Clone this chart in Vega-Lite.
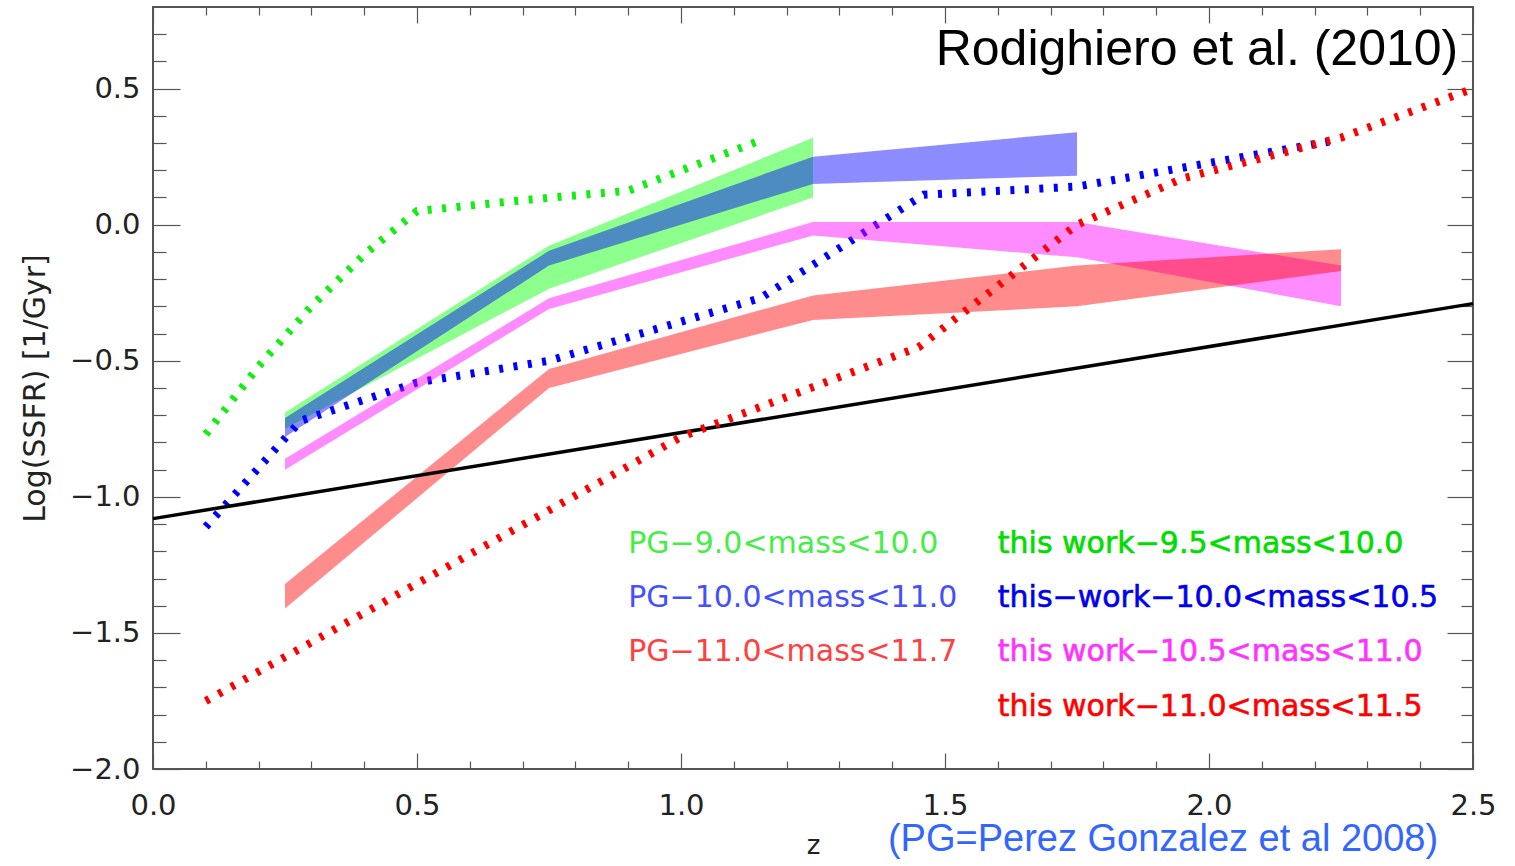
{
  "$schema": "https://vega.github.io/schema/vega-lite/v6.json",
  "width": 1320,
  "height": 762,
  "autosize": {"type": "none"},
  "padding": {"left": 153, "top": 7, "right": 42, "bottom": 97},
  "background": "white",
  "config": {
    "view": {"stroke": "#555", "strokeWidth": 2},
    "axis": {
      "domain": false, "grid": false, "tickColor": "#555", "tickWidth": 1.2,
      "labelFont": "DejaVu Sans", "labelFontSize": 29, "labelColor": "#222",
      "titleFont": "DejaVu Sans", "titleColor": "#222", "titleFontWeight": "normal",
      "labelFlush": false, "labelOverlap": false, "labelBound": false
    }
  },
  "datasets": {
    "bands": [
      {"s": "pg1", "z": 0.25, "lo": -0.75, "hi": -0.69},
      {"s": "pg1", "z": 0.75, "lo": -0.235, "hi": -0.077},
      {"s": "pg1", "z": 1.25, "lo": 0.10, "hi": 0.32},
      {"s": "pg2", "z": 0.25, "lo": -0.78, "hi": -0.71},
      {"s": "pg2", "z": 0.75, "lo": -0.15, "hi": -0.096},
      {"s": "pg2", "z": 1.25, "lo": 0.15, "hi": 0.25},
      {"s": "pg2", "z": 1.75, "lo": 0.18, "hi": 0.34},
      {"s": "pg3", "z": 0.25, "lo": -1.41, "hi": -1.32},
      {"s": "pg3", "z": 0.75, "lo": -0.60, "hi": -0.53},
      {"s": "pg3", "z": 1.25, "lo": -0.35, "hi": -0.26},
      {"s": "pg3", "z": 1.75, "lo": -0.30, "hi": -0.15},
      {"s": "pg3", "z": 2.25, "lo": -0.17, "hi": -0.09},
      {"s": "tw3", "z": 0.25, "lo": -0.90, "hi": -0.86},
      {"s": "tw3", "z": 0.75, "lo": -0.31, "hi": -0.27},
      {"s": "tw3", "z": 1.25, "lo": -0.04, "hi": 0.01},
      {"s": "tw3", "z": 1.75, "lo": -0.12, "hi": 0.01},
      {"s": "tw3", "z": 2.25, "lo": -0.30, "hi": -0.15}
    ],
    "lines": [
      {"s": "tw1", "z": 0.1, "v": -0.77},
      {"s": "tw1", "z": 0.2, "v": -0.52},
      {"s": "tw1", "z": 0.3, "v": -0.30},
      {"s": "tw1", "z": 0.4, "v": -0.11},
      {"s": "tw1", "z": 0.5, "v": 0.05},
      {"s": "tw1", "z": 0.7, "v": 0.09},
      {"s": "tw1", "z": 0.9, "v": 0.125},
      {"s": "tw1", "z": 1.15, "v": 0.31},
      {"s": "tw2", "z": 0.1, "v": -1.11},
      {"s": "tw2", "z": 0.28, "v": -0.72},
      {"s": "tw2", "z": 0.5, "v": -0.58},
      {"s": "tw2", "z": 0.75, "v": -0.50},
      {"s": "tw2", "z": 1.15, "v": -0.27},
      {"s": "tw2", "z": 1.46, "v": 0.11},
      {"s": "tw2", "z": 1.75, "v": 0.14},
      {"s": "tw2", "z": 2.24, "v": 0.31},
      {"s": "tw4", "z": 0.1, "v": -1.75},
      {"s": "tw4", "z": 1.0, "v": -0.78},
      {"s": "tw4", "z": 1.45, "v": -0.45},
      {"s": "tw4", "z": 1.75, "v": 0.0},
      {"s": "tw4", "z": 1.95, "v": 0.17},
      {"s": "tw4", "z": 2.25, "v": 0.32},
      {"s": "tw4", "z": 2.5, "v": 0.50},
      {"s": "fit", "z": 0.0, "v": -1.08},
      {"s": "fit", "z": 2.5, "v": -0.29}
    ],
    "labels": [
      {"s": "pg1", "g": "pg", "z": 0.9, "v": -1.206, "label": "PG−9.0<mass<10.0"},
      {"s": "pg2", "g": "pg", "z": 0.9, "v": -1.404, "label": "PG−10.0<mass<11.0"},
      {"s": "pg3", "g": "pg", "z": 0.9, "v": -1.603, "label": "PG−11.0<mass<11.7"},
      {"s": "tw1", "g": "tw", "z": 1.6, "v": -1.206, "label": "this work−9.5<mass<10.0"},
      {"s": "tw2", "g": "tw", "z": 1.6, "v": -1.404, "label": "this−work−10.0<mass<10.5"},
      {"s": "tw3", "g": "tw", "z": 1.6, "v": -1.603, "label": "this work−10.5<mass<11.0"},
      {"s": "tw4", "g": "tw", "z": 1.6, "v": -1.805, "label": "this work−11.0<mass<11.5"}
    ],
    "notes": [
      {"s": "ref", "z": 2.472, "v": 0.588, "label": "Rodighiero et al. (2010)"},
      {"s": "pgnote", "z": 2.434, "v": -2.30, "label": "(PG=Perez Gonzalez et al 2008)"}
    ]
  },
  "resolve": {"axis": {"x": "independent", "y": "independent"}},
  "layer": [
    {
      "data": {"name": "bands"},
      "transform": [{"filter": "datum.s === 'pg1'"}],
      "mark": {"type": "area", "color": "#00ff00", "opacity": 0.45},
      "encoding": {
        "x": {"field": "z", "type": "quantitative", "scale": {"domain": [0, 2.5], "nice": false, "zero": false},
          "axis": {"orient": "bottom", "values": [0, 0.5, 1, 1.5, 2, 2.5], "format": ".1f", "offset": -16, "tickSize": 16, "labelPadding": 22,
            "title": "z", "titleFontSize": 26, "titleX": 660, "titleY": 92, "titleBaseline": "middle", "titleAlign": "center"}},
        "y": {"field": "lo", "type": "quantitative", "scale": {"domain": [-2, 0.8], "nice": false, "zero": false},
          "axis": {"orient": "left", "values": [-2, -1.5, -1, -0.5, 0, 0.5], "format": ".1f", "offset": -27, "tickSize": 27, "labelPadding": 13,
            "title": "Log(SSFR) [1/Gyr]", "titleFontSize": 30, "titleAngle": -90, "titleX": -145, "titleY": 381, "titleAlign": "center", "titleBaseline": "middle"}},
        "y2": {"field": "hi"}
      }
    },
    {
      "data": {"name": "bands"},
      "transform": [{"filter": "datum.s === 'pg2'"}],
      "mark": {"type": "area", "color": "#0000ff", "opacity": 0.45},
      "encoding": {
        "x": {"field": "z", "type": "quantitative", "scale": {"domain": [0, 2.5], "nice": false, "zero": false},
          "axis": {"orient": "bottom", "values": [0.1, 0.2, 0.3, 0.4, 0.6, 0.7, 0.8, 0.9, 1.1, 1.2, 1.3, 1.4, 1.6, 1.7, 1.8, 1.9, 2.1, 2.2, 2.3, 2.4], "labels": false, "offset": -8, "tickSize": 8, "title": null}},
        "y": {"field": "lo", "type": "quantitative", "scale": {"domain": [-2, 0.8], "nice": false, "zero": false},
          "axis": {"orient": "left", "values": [-1.9, -1.8, -1.7, -1.6, -1.4, -1.3, -1.2, -1.1, -0.9, -0.8, -0.7, -0.6, -0.4, -0.3, -0.2, -0.1, 0.1, 0.2, 0.3, 0.4, 0.6, 0.7], "labels": false, "offset": -13, "tickSize": 13, "title": null}},
        "y2": {"field": "hi"}
      }
    },
    {
      "data": {"name": "lines"},
      "transform": [{"filter": "datum.s === 'tw1'"}],
      "mark": {"type": "line", "color": "#11ee11", "strokeWidth": 8, "strokeDash": [4, 10.5], "strokeCap": "butt"},
      "encoding": {
        "x": {"field": "z", "type": "quantitative", "scale": {"domain": [0, 2.5], "nice": false, "zero": false},
          "axis": {"orient": "top", "values": [0, 0.5, 1, 1.5, 2, 2.5], "labels": false, "offset": -16, "tickSize": 16, "title": null}},
        "y": {"field": "v", "type": "quantitative", "scale": {"domain": [-2, 0.8], "nice": false, "zero": false},
          "axis": {"orient": "right", "values": [-2, -1.5, -1, -0.5, 0, 0.5], "labels": false, "offset": -26, "tickSize": 26, "title": null}}
      }
    },
    {
      "data": {"name": "lines"},
      "transform": [{"filter": "datum.s === 'tw2'"}],
      "mark": {"type": "line", "color": "#0000ff", "strokeWidth": 8, "strokeDash": [4, 10.5], "strokeCap": "butt"},
      "encoding": {
        "x": {"field": "z", "type": "quantitative", "scale": {"domain": [0, 2.5], "nice": false, "zero": false},
          "axis": {"orient": "top", "values": [0.1, 0.2, 0.3, 0.4, 0.6, 0.7, 0.8, 0.9, 1.1, 1.2, 1.3, 1.4, 1.6, 1.7, 1.8, 1.9, 2.1, 2.2, 2.3, 2.4], "labels": false, "offset": -8, "tickSize": 8, "title": null}},
        "y": {"field": "v", "type": "quantitative", "scale": {"domain": [-2, 0.8], "nice": false, "zero": false},
          "axis": {"orient": "right", "values": [-1.9, -1.8, -1.7, -1.6, -1.4, -1.3, -1.2, -1.1, -0.9, -0.8, -0.7, -0.6, -0.4, -0.3, -0.2, -0.1, 0.1, 0.2, 0.3, 0.4, 0.6, 0.7], "labels": false, "offset": -12, "tickSize": 12, "title": null}}
      }
    },
    {
      "data": {"name": "bands"},
      "transform": [{"filter": "datum.s === 'tw3'"}],
      "mark": {"type": "area", "color": "#ff00ff", "opacity": 0.45},
      "encoding": {
        "x": {"field": "z", "type": "quantitative", "scale": {"domain": [0, 2.5], "nice": false, "zero": false}, "axis": null},
        "y": {"field": "lo", "type": "quantitative", "scale": {"domain": [-2, 0.8], "nice": false, "zero": false}, "axis": null},
        "y2": {"field": "hi"}
      }
    },
    {
      "data": {"name": "bands"},
      "transform": [{"filter": "datum.s === 'pg3'"}],
      "mark": {"type": "area", "color": "#ff0000", "opacity": 0.45},
      "encoding": {
        "x": {"field": "z", "type": "quantitative", "scale": {"domain": [0, 2.5], "nice": false, "zero": false}, "axis": null},
        "y": {"field": "lo", "type": "quantitative", "scale": {"domain": [-2, 0.8], "nice": false, "zero": false}, "axis": null},
        "y2": {"field": "hi"}
      }
    },
    {
      "data": {"name": "lines"},
      "transform": [{"filter": "datum.s === 'fit'"}],
      "mark": {"type": "line", "color": "#000000", "strokeWidth": 3.5},
      "encoding": {
        "x": {"field": "z", "type": "quantitative", "scale": {"domain": [0, 2.5], "nice": false, "zero": false}, "axis": null},
        "y": {"field": "v", "type": "quantitative", "scale": {"domain": [-2, 0.8], "nice": false, "zero": false}, "axis": null}
      }
    },
    {
      "data": {"name": "lines"},
      "transform": [{"filter": "datum.s === 'tw4'"}],
      "mark": {"type": "line", "color": "#ff0000", "strokeWidth": 8, "strokeDash": [4, 10.5], "strokeCap": "butt"},
      "encoding": {
        "x": {"field": "z", "type": "quantitative", "scale": {"domain": [0, 2.5], "nice": false, "zero": false}, "axis": null},
        "y": {"field": "v", "type": "quantitative", "scale": {"domain": [-2, 0.8], "nice": false, "zero": false}, "axis": null}
      }
    },
    {
      "data": {"name": "labels"},
      "transform": [{"filter": "datum.g === 'pg'"}],
      "mark": {"type": "text", "align": "left", "baseline": "alphabetic", "font": "DejaVu Sans", "fontSize": 30},
      "encoding": {
        "x": {"field": "z", "type": "quantitative", "scale": {"domain": [0, 2.5], "nice": false, "zero": false}, "axis": null},
        "y": {"field": "v", "type": "quantitative", "scale": {"domain": [-2, 0.8], "nice": false, "zero": false}, "axis": null},
        "text": {"field": "label"},
        "color": {"field": "s", "type": "nominal", "legend": null,
          "scale": {"domain": ["pg1", "pg2", "pg3", "tw1", "tw2", "tw3", "tw4"], "range": ["#44ee44", "#4450ff", "#ff4040", "#00dd00", "#0000ee", "#ff33ff", "#ff0000"]}}
      }
    },
    {
      "data": {"name": "labels"},
      "transform": [{"filter": "datum.g === 'tw'"}],
      "mark": {"type": "text", "align": "left", "baseline": "alphabetic", "font": "DejaVu Sans", "fontSize": 30, "strokeWidth": 0.6},
      "encoding": {
        "x": {"field": "z", "type": "quantitative", "scale": {"domain": [0, 2.5], "nice": false, "zero": false}, "axis": null},
        "y": {"field": "v", "type": "quantitative", "scale": {"domain": [-2, 0.8], "nice": false, "zero": false}, "axis": null},
        "text": {"field": "label"},
        "color": {"field": "s", "type": "nominal", "legend": null,
          "scale": {"domain": ["pg1", "pg2", "pg3", "tw1", "tw2", "tw3", "tw4"], "range": ["#44ee44", "#4450ff", "#ff4040", "#00dd00", "#0000ee", "#ff33ff", "#ff0000"]}},
        "stroke": {"field": "s", "type": "nominal", "legend": null,
          "scale": {"domain": ["pg1", "pg2", "pg3", "tw1", "tw2", "tw3", "tw4"], "range": ["#44ee44", "#4450ff", "#ff4040", "#00dd00", "#0000ee", "#ff33ff", "#ff0000"]}}
      }
    },
    {
      "data": {"name": "notes"},
      "transform": [{"filter": "datum.s === 'ref'"}],
      "mark": {"type": "text", "align": "right", "baseline": "alphabetic", "font": "Liberation Sans", "fontSize": 50, "color": "#000000"},
      "encoding": {
        "x": {"field": "z", "type": "quantitative", "scale": {"domain": [0, 2.5], "nice": false, "zero": false}, "axis": null},
        "y": {"field": "v", "type": "quantitative", "scale": {"domain": [-2, 0.8], "nice": false, "zero": false}, "axis": null},
        "text": {"field": "label"}
      }
    },
    {
      "data": {"name": "notes"},
      "transform": [{"filter": "datum.s === 'pgnote'"}],
      "mark": {"type": "text", "align": "right", "baseline": "alphabetic", "font": "Liberation Sans", "fontSize": 38, "color": "#3366ff"},
      "encoding": {
        "x": {"field": "z", "type": "quantitative", "scale": {"domain": [0, 2.5], "nice": false, "zero": false}, "axis": null},
        "y": {"field": "v", "type": "quantitative", "scale": {"domain": [-2, 0.8], "nice": false, "zero": false}, "axis": null},
        "text": {"field": "label"}
      }
    }
  ]
}
